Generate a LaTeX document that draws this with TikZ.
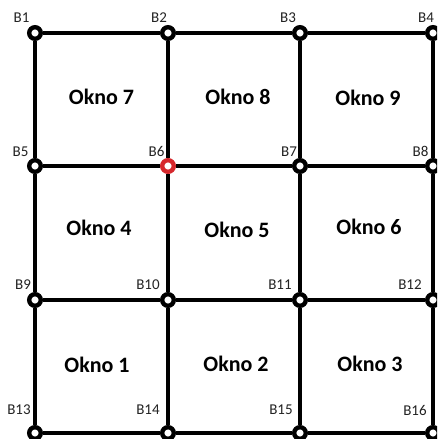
\documentclass[tikz,border=0pt]{standalone}
\usepackage{fontspec}
\setmainfont{Carlito}
\begin{document}
\begin{tikzpicture}[x=1pt,y=-1pt,
  pt/.style={circle,draw=black,fill=white,line width=4.4pt,minimum size=11.6pt,inner sep=0pt},
  redpt/.style={pt,draw={rgb,255:red,214;green,40;blue,45}},
  edge/.style={line width=3.2pt,black},
  lbl/.style={font=\fontsize{15}{15}\selectfont,text={rgb,255:red,35;green,35;blue,35},inner sep=0pt},
  win/.style={font=\fontsize{22}{22}\selectfont\bfseries,inner sep=0pt}]
\useasboundingbox (0,0) rectangle (437,439);
\clip (0,0) rectangle (437,439);
\fill[white] (0,0) rectangle (437,439);
% grid nodes
\node[pt] (b1) at (35,33) {};
\node[pt] (b2) at (168,33) {};
\node[pt] (b3) at (300,33) {};
\node[pt] (b4) at (433,33) {};
\node[pt] (b5) at (35,166) {};
\node[redpt] (b6) at (168,166) {};
\node[pt] (b7) at (300,166) {};
\node[pt] (b8) at (433,166) {};
\node[pt] (b9) at (35,300) {};
\node[pt] (b10) at (168,300) {};
\node[pt] (b11) at (300,300) {};
\node[pt] (b12) at (433,300) {};
\node[pt] (b13) at (35,433) {};
\node[pt] (b14) at (168,433) {};
\node[pt] (b15) at (300,433) {};
\node[pt] (b16) at (433,433) {};
% edges
\foreach \a/\b in {b1/b2,b2/b3,b3/b4,b5/b6,b6/b7,b7/b8,b9/b10,b10/b11,b11/b12,b13/b14,b14/b15,b15/b16,
  b1/b5,b5/b9,b9/b13,b2/b6,b6/b10,b10/b14,b3/b7,b7/b11,b11/b15,b4/b8,b8/b12,b12/b16}
  \draw[edge] (\a) -- (\b);
% labels
\node[lbl] (l1) at (21.5,17.5) {B1};
\node[lbl] (l2) at (159,17.5) {B2};
\node[lbl] (l3) at (288,17.5) {B3};
\node[lbl] (l4) at (426,17.5) {B4};
\node[lbl] (l5) at (20.5,151.5) {B5};
\node[lbl] (l6) at (156.5,151.5) {B6};
\node[lbl] (l7) at (289,151.5) {B7};
\node[lbl] (l8) at (420.5,151.5) {B8};
\node[lbl] (l9) at (23,284.5) {B9};
\node[lbl] (l10) at (148,284.5) {B10};
\node[lbl] (l11) at (280,284.5) {B11};
\node[lbl] (l12) at (410,284.5) {B12};
\node[lbl] (l13) at (19,410) {B13};
\node[lbl] (l14) at (148,410) {B14};
\node[lbl] (l15) at (281,410) {B15};
\node[lbl] (l16) at (415,410) {B16};
% windows
\node[win] (o7) at (101.5,97) {Okno 7};
\node[win] (o8) at (238,97) {Okno 8};
\node[win] (o9) at (368,98) {Okno 9};
\node[win] (o4) at (99,228) {Okno 4};
\node[win] (o5) at (237,230) {Okno 5};
\node[win] (o6) at (369,227) {Okno 6};
\node[win] (o1) at (97,365) {Okno 1};
\node[win] (o2) at (236,364) {Okno 2};
\node[win] (o3) at (370,364) {Okno 3};
\end{tikzpicture}
\end{document}
